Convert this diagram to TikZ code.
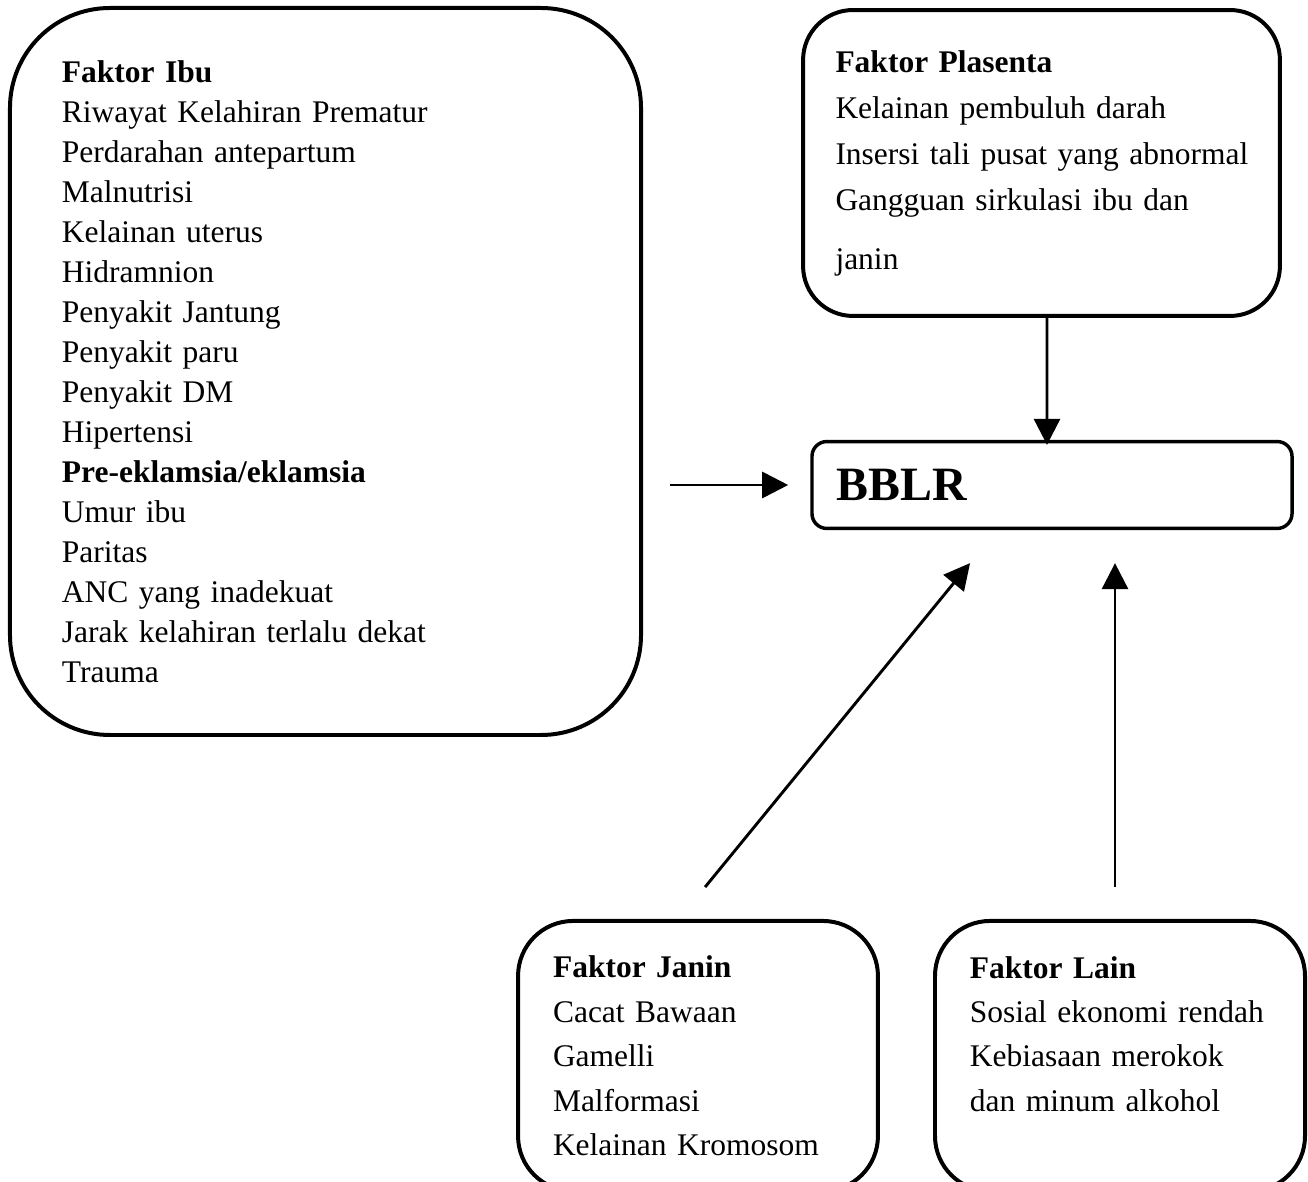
\documentclass[tikz,border=0pt]{standalone}
\usepackage{fontspec}
\setmainfont{Liberation Serif}
\usetikzlibrary{arrows.meta,calc}

\begin{document}
\begin{tikzpicture}[x=0.3762pt, y=-0.3762pt,
    faktor/.style={draw, line width=1.5pt, align=left, inner sep=0pt},
    arr/.style={line width=1.1pt, -{Triangle[length=9.8pt,width=9.8pt]}}]
    \useasboundingbox (0,0) rectangle (1308,1182);
    \clip (0,0) rectangle (1308,1182);

    \node[faktor, rounded corners=37.6pt, minimum width=237.4pt, minimum height=273.5pt,
        text width=198.3pt, font=\fontsize{11.85}{15.05}\selectfont] (ibu) at (325.5,371.5)
        {\textbf{Faktor Ibu}\\ Riwayat Kelahiran Prematur\\ Perdarahan antepartum\\ Malnutrisi\\
         Kelainan uterus\\ Hidramnion\\ Penyakit Jantung\\ Penyakit paru\\ Penyakit DM\\
         Hipertensi\\ \textbf{Pre-eklamsia/eklamsia}\\ Umur ibu\\ Paritas\\
         ANC yang inadekuat\\ Jarak kelahiran terlalu dekat\\ Trauma};
    \node[faktor, rounded corners=18.8pt, minimum width=179.4pt, minimum height=115.1pt,
        text width=155pt, font=\fontsize{11.85}{17.3}\selectfont] (plasenta) at (1041.5,163)
        {\textbf{Faktor Plasenta}\\ Kelainan pembuluh darah\\ \mbox{Insersi tali pusat yang abnormal}\\
         Gangguan sirkulasi ibu dan\\[4.9pt] janin};
    \node[faktor, line width=1.3pt, rounded corners=5.6pt, minimum width=180.6pt, minimum height=32.7pt,
        text width=161.8pt, font=\fontsize{18}{22}\selectfont\bfseries] (bblr) at (1052,485) {BBLR};
    \node[faktor, rounded corners=20.7pt, minimum width=135.4pt, minimum height=101.6pt,
        text width=109.1pt, font=\fontsize{11.85}{16.7}\selectfont] (janin) at (698,1056)
        {\textbf{Faktor Janin}\\ Cacat Bawaan\\ Gamelli\\ Malformasi\\ Kelainan Kromosom};
    \node[faktor, rounded corners=20.7pt, minimum width=139.2pt, minimum height=101.6pt,
        text width=112.9pt, font=\fontsize{11.85}{16.7}\selectfont] (lain) at (1120,1056)
        {\textbf{Faktor Lain}\\ Sosial ekonomi rendah\\ Kebiasaan merokok\\ dan minum alkohol\\ \mbox{}};

    \draw[arr, shorten <=10.2pt, shorten >=8.3pt] (ibu.east |- bblr.west) -- (bblr.west);
    \draw[arr, shorten >=-1.9pt] ($(plasenta.south)+(5.5,0)$) -- ($(bblr.north)+(-5,0)$);
    \draw[arr, shorten <=15.5pt, shorten >=16pt] ($(janin.north)+(-19,0)$) -- ($(bblr.south)+(-55,0)$);
    \draw[arr, shorten <=12pt, shorten >=12.4pt] ($(lain.north)+(-5,0)$) -- ($(bblr.south)+(63,0)$);
\end{tikzpicture}
\end{document}
